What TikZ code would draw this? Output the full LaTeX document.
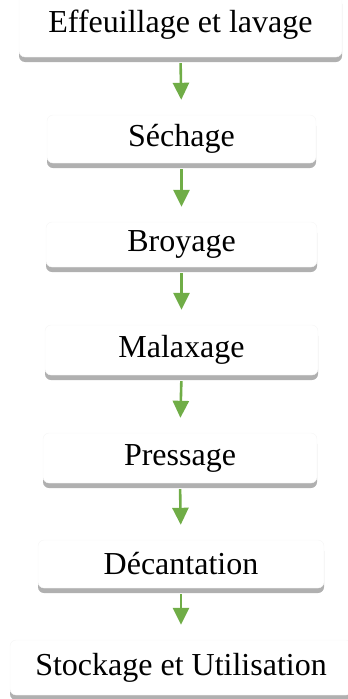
\documentclass[tikz,border=0pt]{standalone}
\usepackage{fontspec}
\setmainfont{Liberation Serif}
\usetikzlibrary{arrows.meta, shadows}
\definecolor{flowgreen}{RGB}{112,173,71}
\tikzset{>={Triangle[length=17pt,width=16pt]}}
\tikzset{etape/.style={rectangle, rounded corners=6pt, fill=white, draw=gray!8,
    inner sep=0pt, font=\fontsize{32}{38}\selectfont,
    drop shadow={shadow xshift=0pt, shadow yshift=-5pt, fill=gray!62, opacity=1}}}

\begin{document}
\begin{tikzpicture}[x=1pt,y=-1pt]
    \useasboundingbox (0,0) rectangle (348,699);
    \node[etape, minimum width=323pt, minimum height=64pt] (effeuil) at (180.5,25) {Effeuillage et lavage};
    \node[etape, minimum width=269pt, minimum height=48pt] (sechage) at (181.5,139) {Séchage};
    \node[etape, minimum width=271pt, minimum height=45pt] (broyage) at (181.5,244.5) {Broyage};
    \node[etape, minimum width=273pt, minimum height=50pt] (malax) at (181.5,350) {Malaxage};
    \node[etape, minimum width=274pt, minimum height=50pt] (press) at (180,458) {Pressage};
    \node[etape, minimum width=286pt, minimum height=48pt] (decant) at (181,564) {Décantation};
    \node[etape, minimum width=342pt, minimum height=55pt] (stock) at (181,667.5) {Stockage et Utilisation};
    % fleches entre les etapes
    \foreach \a/\b in {effeuil/sechage, sechage/broyage, broyage/malax, malax/press, press/decant, decant/stock}
    \draw[->, flowgreen, line width=2.6pt, shorten <=6pt, shorten >=15pt] (\a.south) -- (\b.north);
\end{tikzpicture}
\end{document}
